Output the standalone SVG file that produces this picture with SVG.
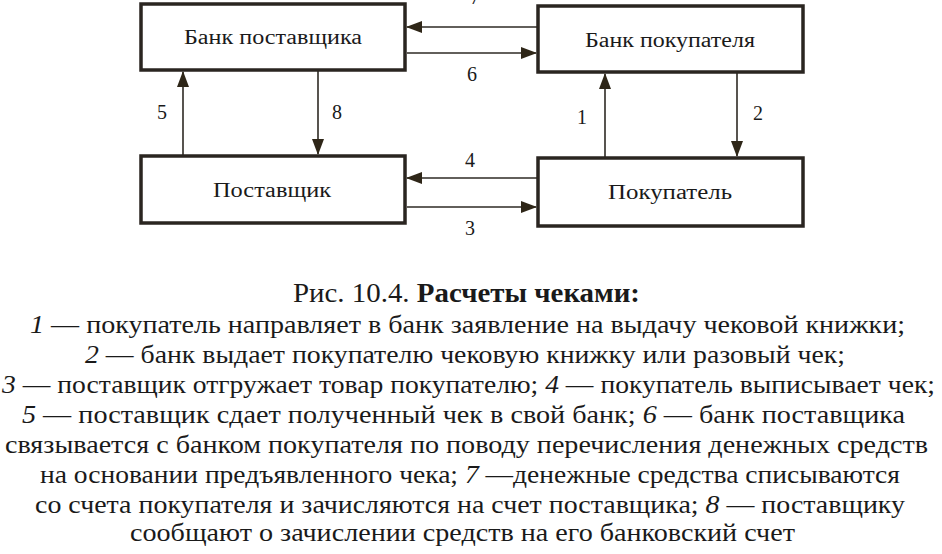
<svg xmlns="http://www.w3.org/2000/svg" width="942" height="554" viewBox="0 0 942 554">
<defs>
<marker id="ah" markerWidth="16" markerHeight="12" refX="15" refY="6" orient="auto" markerUnits="userSpaceOnUse">
<path d="M0,0 L16,6 L0,12 Z" fill="#2e2618"/>
</marker>
<style>
.box{fill:#fff;stroke:#2a2520;stroke-width:3.5}
.lbl{font-family:"Liberation Serif","Times New Roman",serif;font-size:20px;fill:#1a1a1a;text-anchor:middle}
.num{font-family:"Liberation Serif","Times New Roman",serif;font-size:20px;fill:#1a1a1a;text-anchor:middle}
.ln{stroke:#2e2a24;stroke-width:1.6;fill:none;marker-end:url(#ah)}
.cap{font-family:"Liberation Serif","Times New Roman",serif;font-size:28px;fill:#1a1a1a}
.leg{font-family:"Liberation Serif","Times New Roman",serif;font-size:26px;fill:#1a1a1a}
.it{font-style:italic}
</style>
</defs>
<rect width="942" height="554" fill="#fff"/>
<g id="connectors">
<line class="ln" x1="537" y1="27" x2="407" y2="27"/>
<line class="ln" x1="407" y1="53" x2="536" y2="53"/>
<line class="ln" x1="183" y1="155" x2="183" y2="72"/>
<line class="ln" x1="318" y1="70" x2="318" y2="154"/>
<line class="ln" x1="605" y1="157" x2="605" y2="74"/>
<line class="ln" x1="737" y1="72" x2="737" y2="156"/>
<line class="ln" x1="537" y1="178" x2="407" y2="178"/>
<line class="ln" x1="407" y1="207" x2="536" y2="207"/>
<text class="num" x="475" y="4">7</text>
<text class="num" x="472" y="81">6</text>
<text class="num" x="162" y="119">5</text>
<text class="num" x="337" y="119">8</text>
<text class="num" x="582" y="124">1</text>
<text class="num" x="758" y="120">2</text>
<text class="num" x="470" y="167">4</text>
<text class="num" x="470" y="235">3</text>
</g>
<g id="bank-supplier">
<rect class="box" x="141" y="4" width="264" height="66"/>
<text class="lbl" x="273" y="44" textLength="178" lengthAdjust="spacingAndGlyphs">Банк поставщика</text>
</g>
<g id="bank-buyer">
<rect class="box" x="538" y="6" width="265" height="66"/>
<text class="lbl" x="670" y="47" textLength="170" lengthAdjust="spacingAndGlyphs">Банк покупателя</text>
</g>
<g id="supplier">
<rect class="box" x="141" y="156" width="264" height="67"/>
<text class="lbl" x="272" y="197" textLength="118" lengthAdjust="spacingAndGlyphs">Поставщик</text>
</g>
<g id="buyer">
<rect class="box" x="538" y="158" width="265" height="68"/>
<text class="lbl" x="670" y="199" textLength="124" lengthAdjust="spacingAndGlyphs">Покупатель</text>
</g>
<g id="caption">
<text class="cap" x="293" y="302" textLength="347" lengthAdjust="spacingAndGlyphs">Рис. 10.4. <tspan font-weight="bold">Расчеты чеками:</tspan></text>
<text class="leg" x="30" y="333" textLength="875" lengthAdjust="spacingAndGlyphs"><tspan class="it">1</tspan> — покупатель направляет в банк заявление на выдачу чековой книжки;</text>
<text class="leg" x="85" y="363" textLength="760" lengthAdjust="spacingAndGlyphs"><tspan class="it">2</tspan> — банк выдает покупателю чековую книжку или разовый чек;</text>
<text class="leg" x="2" y="393" textLength="933" lengthAdjust="spacingAndGlyphs"><tspan class="it">3</tspan> — поставщик отгружает товар покупателю; <tspan class="it">4</tspan> — покупатель выписывает чек;</text>
<text class="leg" x="22" y="423" textLength="883" lengthAdjust="spacingAndGlyphs"><tspan class="it">5</tspan> — поставщик сдает полученный чек в свой банк; <tspan class="it">6</tspan> — банк поставщика</text>
<text class="leg" x="5" y="453" textLength="923" lengthAdjust="spacingAndGlyphs">связывается с банком покупателя по поводу перечисления денежных средств</text>
<text class="leg" x="40" y="483" textLength="860" lengthAdjust="spacingAndGlyphs">на основании предъявленного чека; <tspan class="it">7</tspan> —денежные средства списываются</text>
<text class="leg" x="35" y="513" textLength="870" lengthAdjust="spacingAndGlyphs">со счета покупателя и зачисляются на счет поставщика; <tspan class="it">8</tspan> — поставщику</text>
<text class="leg" x="130" y="541" textLength="665" lengthAdjust="spacingAndGlyphs">сообщают о зачислении средств на его банковский счет</text>
</g>
</svg>
